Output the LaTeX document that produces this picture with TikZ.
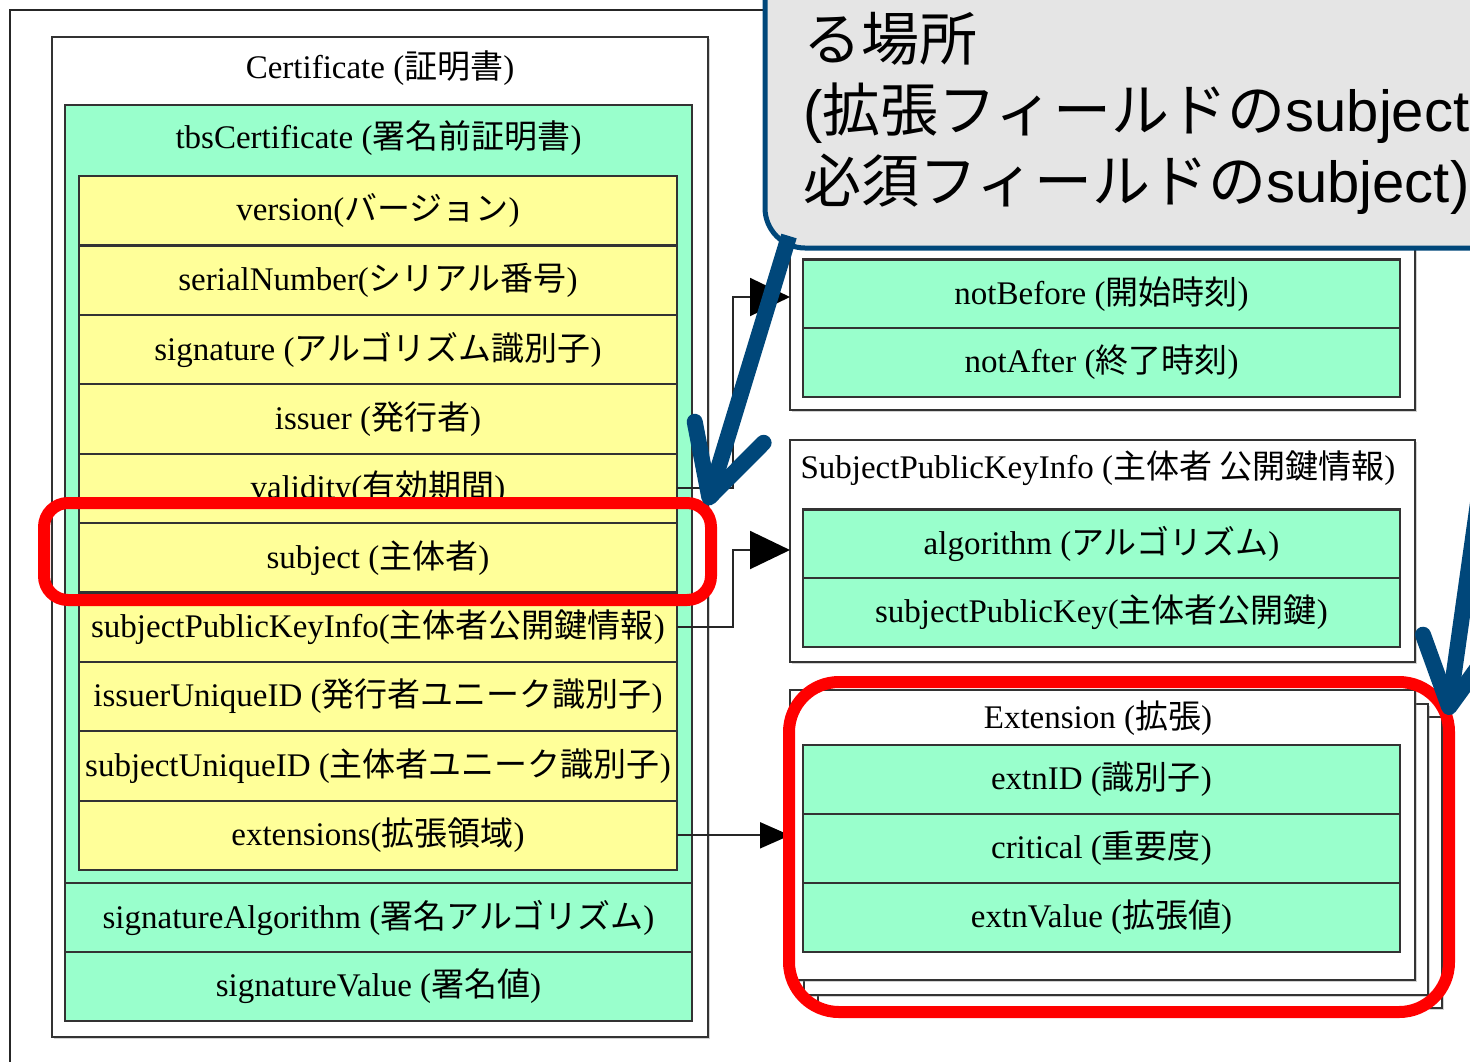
\documentclass[tikz,border=0pt]{standalone}
\usepackage{fontspec}
\setmainfont{Liberation Serif}
\newfontfamily\jafont{Noto Sans CJK JP}
\newfontfamily\callfont{Liberation Sans}
\newcommand{\ja}[1]{{\jafont #1}}
\usetikzlibrary{arrows.meta,shadows}
\definecolor{rowyellow}{HTML}{FFFF99}
\definecolor{rowgreen}{HTML}{99FFCC}
\definecolor{callgray}{HTML}{E5E5E5}
\definecolor{callblue}{HTML}{00477A}
\begin{document}
\begin{tikzpicture}[x=0.5pt,y=-0.5pt,
	box/.style={draw=black!80,line width=1.1pt,inner sep=0pt,outer sep=0pt},
	shadowbox/.style={box,fill=white,drop shadow={shadow xshift=1.2pt,shadow yshift=-1.2pt,opacity=.35}},
	yellowrow/.style={box,fill=rowyellow,minimum width=299pt,minimum height=34.7pt,font=\fontsize{16.5pt}{18pt}\selectfont},
	greenrow/.style={box,fill=rowgreen,minimum width=298.5pt,minimum height=34.5pt,font=\fontsize{16.5pt}{18pt}\selectfont},
	title/.style={inner sep=0pt,font=\fontsize{16.5pt}{18pt}\selectfont},
	link/.style={draw=black!85,line width=1pt,-{Triangle[length=20pt,width=19pt,color=black]}},
	redmark/.style={draw=red,line width=6pt,inner sep=0pt},
	pointer/.style={draw=callblue,line width=8pt,-{Straight Barb[length=34pt,width=36pt,round]}},
	calltext/.style={inner sep=0pt,anchor=base west,font=\callfont\fontsize{29pt}{34pt}\selectfont}]
	\useasboundingbox (0,0) rectangle (1470,1061);
	\clip (0,0) rectangle (1470,1061);
	\fill[white] (0,0) rectangle (1470,1061);
	\draw[draw=black!85,line width=1.2pt] (10,1100) -- (10,10) -- (1600,10); % window frame
	% Certificate
	\node[shadowbox,minimum width=328pt,minimum height=500pt] (cert) at (380,537) {};
	\node[title] (certtitle) at (380,68) {Certificate (\ja{証明書})};
	\node[box,fill=rowgreen,minimum width=313.5pt,minimum height=389pt] (tbs) at (378.5,494) {};
	\node[title] (tbstitle) at (378.5,138) {tbsCertificate (\ja{署名前証明書})};
	\node[yellowrow] (version) at (378,210.7) {version(\ja{バージョン})};
	\node[yellowrow] (serial) at (378,280.1) {serialNumber(\ja{シリアル番号})};
	\node[yellowrow] (signature) at (378,349.5) {signature (\ja{アルゴリズム識別子})};
	\node[yellowrow] (issuer) at (378,418.9) {issuer (\ja{発行者})};
	\node[yellowrow] (validity) at (378,488.3) {validity(\ja{有効期間})};
	\node[yellowrow] (subject) at (378,557.7) {subject (\ja{主体者})};
	\node[yellowrow] (spki) at (378,627.1) {subjectPublicKeyInfo(\ja{主体者公開鍵情報})};
	\node[yellowrow] (issueruid) at (378,696.5) {issuerUniqueID (\ja{発行者ユニーク識別子})};
	\node[yellowrow] (subjectuid) at (378,765.9) {subjectUniqueID (\ja{主体者ユニーク識別子})};
	\node[yellowrow] (extensions) at (378,835.3) {extensions(\ja{拡張領域})};
	\node[greenrow,minimum width=313.5pt] (sigalg) at (378.5,917.5) {signatureAlgorithm (\ja{署名アルゴリズム})};
	\node[greenrow,minimum width=313.5pt] (sigvalue) at (378.5,986.5) {signatureValue (\ja{署名値})};
	% Validity
	\node[shadowbox,minimum width=312.5pt,minimum height=115pt] (validbox) at (1102.5,295) {};
	\node[greenrow] (notbefore) at (1101.5,294) {notBefore (\ja{開始時刻})};
	\node[greenrow] (notafter) at (1101.5,362.5) {notAfter (\ja{終了時刻})};
	% SubjectPublicKeyInfo
	\node[shadowbox,minimum width=312.5pt,minimum height=111pt] (spkibox) at (1102.5,551) {};
	\node[title] (spkititle) at (1098,468) {SubjectPublicKeyInfo (\ja{主体者 公開鍵情報})};
	\node[greenrow] (algorithm) at (1101.5,544) {algorithm (\ja{アルゴリズム})};
	\node[greenrow] (pubkey) at (1101.5,612.5) {subjectPublicKey(\ja{主体者公開鍵})};
	% Extension
	\node[shadowbox,minimum width=312pt,minimum height=145.5pt] (extnback2) at (1130,862.5) {};
	\node[shadowbox,minimum width=312pt,minimum height=145.5pt] (extnback1) at (1116,849.5) {};
	\node[shadowbox,minimum width=312.5pt,minimum height=145pt] (extnbox) at (1102.5,835) {};
	\node[title] (extntitle) at (1098,718) {Extension (\ja{拡張})};
	\node[greenrow] (extnid) at (1101.5,779.5) {extnID (\ja{識別子})};
	\node[greenrow] (critical) at (1101.5,848.5) {critical (\ja{重要度})};
	\node[greenrow] (extnvalue) at (1101.5,917.5) {extnValue (\ja{拡張値})};
	% links
	\draw[link] (validity.east) -- ++(56,0) |- ([yshift=-1.5pt]validbox.west |- notbefore.center);
	\draw[link] (spki.east) -- ++(56,0) |- ([yshift=-3pt]spkibox.west |- algorithm.center);
	\draw[link,-{Triangle[length=15pt,width=13pt,color=black]}] (extensions.east) -- (extnbox.west |- extensions.center);
	% red marks
	\node[redmark,rounded corners=12pt,minimum width=333.5pt,minimum height=48.5pt] (marksubject) at (377.5,551.5) {};
	\node[redmark,rounded corners=25pt,minimum width=330pt,minimum height=165pt] (markextn) at (1119,847) {};
	% callout
	\node[draw=callblue,line width=2.5pt,fill=callgray,rounded corners=20pt,inner sep=0pt,minimum width=467.5pt,minimum height=154pt] (callout) at (1232.5,94) {};
	\node[calltext] (callline1) at (803,60) {\ja{る場所}};
	\node[calltext] (callline2) at (803,131) {(\ja{拡張フィールドの}subject};
	\node[calltext] (callline3) at (803,202) {\ja{必須フィールドの}subject)};
	\coordinate (ptrA) at (789,236);
	\coordinate (tipA) at (707,505);
	\coordinate (ptrB) at (1514,248);
	\coordinate (tipB) at (1448,715);
	\draw[pointer] (ptrA) -- (tipA);
	\draw[pointer] (ptrB) -- (tipB);
\end{tikzpicture}
\end{document}
